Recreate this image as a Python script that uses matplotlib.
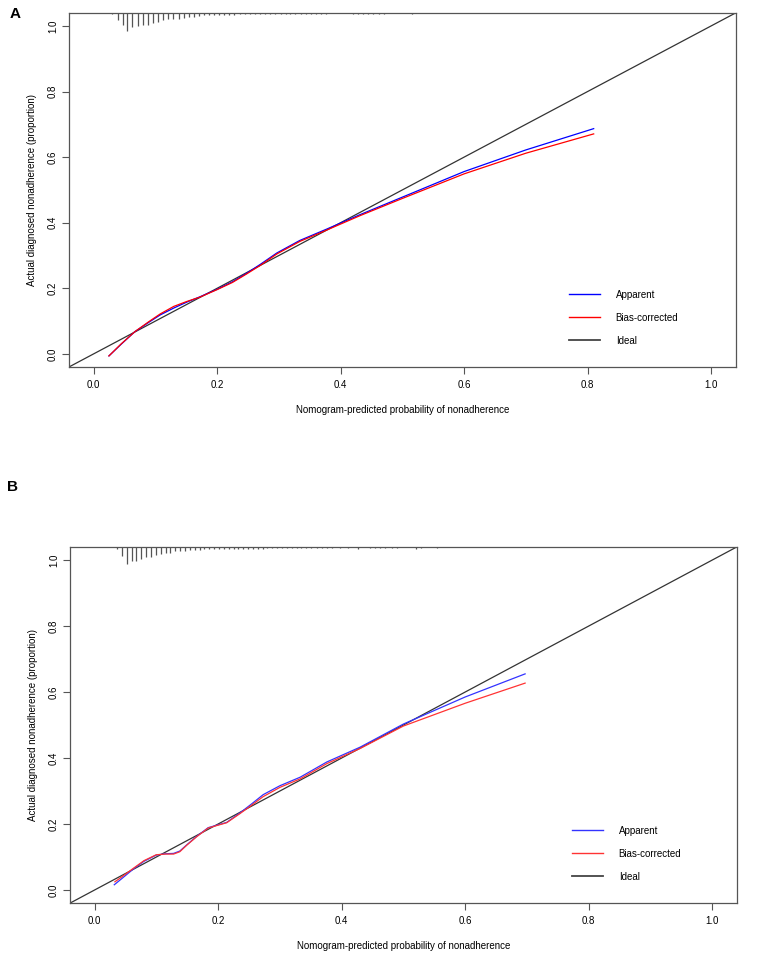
import matplotlib
matplotlib.use("Agg")
import matplotlib.pyplot as plt
from matplotlib.lines import Line2D

plt.rcParams['font.family'] = ['Liberation Sans', 'DejaVu Sans']
plt.rcParams['font.size'] = 7

# ---- Panel A data ----
a_app_x = [0.025, 0.045, 0.067, 0.090, 0.108, 0.130, 0.151, 0.172, 0.200, 0.225,
           0.248, 0.270, 0.297, 0.334, 0.378, 0.432, 0.500, 0.600, 0.700, 0.810]
a_app_y = [-0.006, 0.030, 0.068, 0.097, 0.119, 0.140, 0.158, 0.174, 0.197, 0.220,
           0.246, 0.273, 0.308, 0.346, 0.381, 0.425, 0.478, 0.556, 0.622, 0.687]
a_bc_x = [0.025, 0.045, 0.067, 0.090, 0.108, 0.130, 0.151, 0.172, 0.200, 0.225,
          0.248, 0.270, 0.297, 0.334, 0.378, 0.432, 0.500, 0.600, 0.700, 0.810]
a_bc_y = [-0.006, 0.031, 0.068, 0.099, 0.122, 0.145, 0.160, 0.173, 0.196, 0.218,
          0.244, 0.270, 0.305, 0.343, 0.378, 0.422, 0.474, 0.549, 0.612, 0.671]

a_rug_x = [0.030, 0.039, 0.047, 0.055, 0.063, 0.072, 0.080, 0.088, 0.096, 0.105,
           0.113, 0.121, 0.129, 0.138, 0.146, 0.154, 0.162, 0.171, 0.179, 0.187,
           0.195, 0.204, 0.212, 0.220, 0.228, 0.237, 0.245, 0.253, 0.261, 0.270,
           0.278, 0.286, 0.294, 0.303, 0.311, 0.319, 0.327, 0.336, 0.344, 0.352,
           0.360, 0.369, 0.377, 0.420, 0.429, 0.437, 0.445, 0.453, 0.462, 0.470,
           0.516]
a_rug_h = [0.004, 0.023, 0.037, 0.054, 0.044, 0.041, 0.037, 0.037, 0.031, 0.028,
           0.023, 0.020, 0.018, 0.018, 0.016, 0.014, 0.013, 0.011, 0.008, 0.008,
           0.006, 0.006, 0.005, 0.005, 0.005, 0.004, 0.004, 0.004, 0.004, 0.004,
           0.004, 0.003, 0.004, 0.003, 0.003, 0.004, 0.003, 0.003, 0.003, 0.003,
           0.003, 0.003, 0.003, 0.003, 0.003, 0.003, 0.003, 0.003, 0.003, 0.003,
           0.004]

# ---- Panel B data ----
b_app_x = [0.032, 0.045, 0.063, 0.080, 0.100, 0.115, 0.128, 0.138, 0.150, 0.165,
           0.184, 0.214, 0.235, 0.255, 0.273, 0.300, 0.333, 0.376, 0.430, 0.500,
           0.600, 0.697]
b_app_y = [0.016, 0.036, 0.064, 0.087, 0.106, 0.110, 0.111, 0.118, 0.138, 0.162,
           0.189, 0.205, 0.233, 0.262, 0.289, 0.316, 0.342, 0.388, 0.433, 0.503,
           0.585, 0.655]
b_bc_x = [0.033, 0.045, 0.063, 0.080, 0.100, 0.115, 0.128, 0.138, 0.150, 0.165,
          0.184, 0.214, 0.235, 0.255, 0.273, 0.300, 0.333, 0.376, 0.430, 0.500,
          0.600, 0.697]
b_bc_y = [0.025, 0.041, 0.066, 0.089, 0.107, 0.109, 0.109, 0.116, 0.137, 0.161,
          0.188, 0.204, 0.231, 0.258, 0.283, 0.311, 0.337, 0.383, 0.429, 0.497,
          0.566, 0.627]

b_rug_x = [0.036, 0.044, 0.052, 0.060, 0.067, 0.075, 0.083, 0.091, 0.099, 0.107,
           0.115, 0.123, 0.131, 0.138, 0.146, 0.154, 0.162, 0.170, 0.178, 0.186,
           0.194, 0.202, 0.209, 0.217, 0.225, 0.233, 0.241, 0.249, 0.257, 0.265,
           0.272, 0.279, 0.287, 0.295, 0.303, 0.311, 0.319, 0.327, 0.335, 0.343,
           0.351, 0.360, 0.368, 0.376, 0.384, 0.397, 0.410, 0.426, 0.446, 0.454,
           0.462, 0.470, 0.481, 0.489, 0.521, 0.529, 0.554]
b_rug_h = [0.006, 0.028, 0.052, 0.042, 0.042, 0.038, 0.032, 0.030, 0.026, 0.022,
           0.019, 0.020, 0.014, 0.013, 0.013, 0.010, 0.010, 0.009, 0.008, 0.008,
           0.007, 0.007, 0.007, 0.007, 0.006, 0.006, 0.006, 0.006, 0.006, 0.006,
           0.006, 0.004, 0.004, 0.004, 0.004, 0.004, 0.004, 0.004, 0.004, 0.004,
           0.004, 0.004, 0.004, 0.004, 0.004, 0.004, 0.004, 0.006, 0.004, 0.004,
           0.004, 0.004, 0.004, 0.004, 0.006, 0.004, 0.004]

ticks = [0.0, 0.2, 0.4, 0.6, 0.8, 1.0]
tick_labels = ["0.0", "0.2", "0.4", "0.6", "0.8", "1.0"]
xlabel = "Nomogram-predicted probability of nonadherence"
ylabel = "Actual diagnosed nonadherence (proportion)"
legend_labels = ["Apparent", "Bias-corrected", "Ideal"]

fig = plt.figure(figsize=(7.62, 9.68), dpi=100)


def calib_panel(rect, app_x, app_y, bc_x, bc_y, rug_x, rug_h, blue, red, leg_xy):
    ax = fig.add_axes(rect)
    lo, hi = -0.04, 1.04
    ax.set_xlim(lo, hi)
    ax.set_ylim(lo, hi)
    ax.plot([lo, hi], [lo, hi], color='#333333', lw=0.9)
    ax.plot(app_x, app_y, color=blue, lw=0.9)
    ax.plot(bc_x, bc_y, color=red, lw=0.9)
    # rug of predicted probabilities hanging from the top
    ax.vlines(rug_x, [hi - h for h in rug_h], hi, color='#555555', lw=0.9)
    ax.set_xticks(ticks)
    ax.set_xticklabels(tick_labels)
    ax.set_yticks(ticks)
    ax.set_yticklabels(tick_labels, rotation=90, va='center')
    ax.tick_params(direction='out', length=5, width=0.8, color='#555555')
    ax.tick_params(axis='x', pad=4)
    ax.tick_params(axis='y', pad=2.7)
    for s in ax.spines.values():
        s.set_color('#555555')
        s.set_linewidth(0.9)
    ax.set_xlabel(xlabel, labelpad=11)
    ax.set_ylabel(ylabel, labelpad=8)
    handles = [Line2D([], [], color=blue, lw=1),
               Line2D([], [], color=red, lw=1),
               Line2D([], [], color='#444444', lw=1.3)]
    fig.legend(handles, legend_labels, loc='upper left', bbox_to_anchor=leg_xy,
               bbox_transform=fig.transFigure, frameon=False, borderpad=0,
               borderaxespad=0, handlelength=3.2, handletextpad=1.6,
               labelspacing=1.35, fontsize=7)
    return ax


calib_panel([0.0903, 0.6208, 0.8752, 0.3659], a_app_x, a_app_y, a_bc_x, a_bc_y,
            a_rug_x, a_rug_h, '#0000FF', '#FF0000', (0.7467, 0.7009))
calib_panel([0.0916, 0.0669, 0.8756, 0.3682], b_app_x, b_app_y, b_bc_x, b_bc_y,
            b_rug_x, b_rug_h, '#3333FF', '#FF3333', (0.7507, 0.1472))

fig.text(15 / 762, 1 - 14 / 968, "A", fontsize=11, fontweight='bold', ha='center', va='center')
fig.text(13 / 762, 1 - 487 / 968, "B", fontsize=11, fontweight='bold', ha='center', va='center')

fig.savefig("out.png", dpi=100)
